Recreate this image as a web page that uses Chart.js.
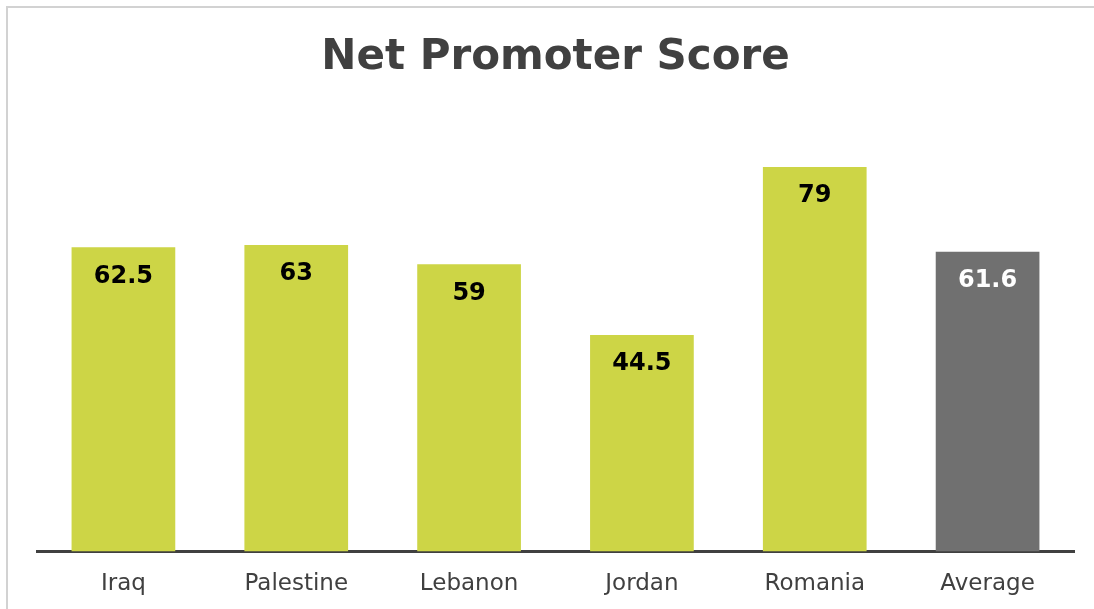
<!DOCTYPE html>
<html>
<head>
<meta charset="utf-8">
<script src="https://cdn.jsdelivr.net/npm/chart.js@4"></script>
<style>
  html, body { margin: 0; padding: 0; background: #ffffff; }
  #wrap { width: 1094px; height: 609px; }
</style>
</head>
<body>
<div id="wrap"><canvas id="chartCanva" width="1094" height="609"></canvas></div>
<script>
// data
const countries = ['Iraq', 'Palestine', 'Lebanon', 'Jordan', 'Romania', 'Average'];
const npsValues = [62.5, 63, 59, 44.5, 79, 61.6];
const barColors = ['#CDD546', '#CDD546', '#CDD546', '#CDD546', '#CDD546', '#707070'];
const valueColors = ['#000000', '#000000', '#000000', '#000000', '#000000', '#ffffff'];

var fontFamily = '"DejaVu Sans", Verdana, sans-serif';

// top and left edge of the chart frame
const framePlugin = {
    id: 'frame',
    beforeDraw(chart) {
        const c = chart.ctx;
        c.save();
        c.strokeStyle = '#d2d2d2';
        c.lineWidth = 2;
        c.beginPath();
        c.moveTo(7, 620);
        c.lineTo(7, 7);
        c.lineTo(1100, 7);
        c.stroke();
        c.restore();
    }
};

// value labels inside the top of each bar
const valueLabels = {
    id: 'valueLabels',
    afterDatasetsDraw(chart) {
        const c = chart.ctx;
        const meta = chart.getDatasetMeta(0);
        c.save();
        c.font = 'bold 24px ' + fontFamily;
        c.textAlign = 'center';
        c.textBaseline = 'middle';
        meta.data.forEach(function (bar, i) {
            c.fillStyle = valueColors[i];
            c.fillText(String(npsValues[i]), bar.x, bar.y + 29);
        });
        c.restore();
    }
};

const config = {
    type: 'bar',
    data: {
        labels: countries,
        datasets: [{
            data: npsValues,
            backgroundColor: barColors,
            borderWidth: 0,
            categoryPercentage: 1,
            barPercentage: 0.6
        }]
    },
    options: {
        responsive: false,
        animation: false,
        layout: {
            padding: { left: 37, right: 20, top: 33, bottom: -8 }
        },
        plugins: {
            legend: { display: false },
            tooltip: { enabled: false },
            title: {
                display: true,
                text: 'Net Promoter Score',
                color: '#404040',
                font: { family: fontFamily, size: 42, weight: 'bold', lineHeight: 1.2 },
                padding: { top: 0, bottom: 0 }
            }
        },
        scales: {
            x: {
                grid: { display: false, drawTicks: false },
                border: { display: true, color: '#404040', width: 3 },
                ticks: {
                    color: '#404040',
                    padding: 19,
                    font: { family: fontFamily, size: 23 }
                }
            },
            y: {
                display: false,
                min: 0,
                max: 96.2
            }
        }
    },
    plugins: [framePlugin, valueLabels]
};

new Chart(document.getElementById('chartCanva'), config);
</script>
</body>
</html>
